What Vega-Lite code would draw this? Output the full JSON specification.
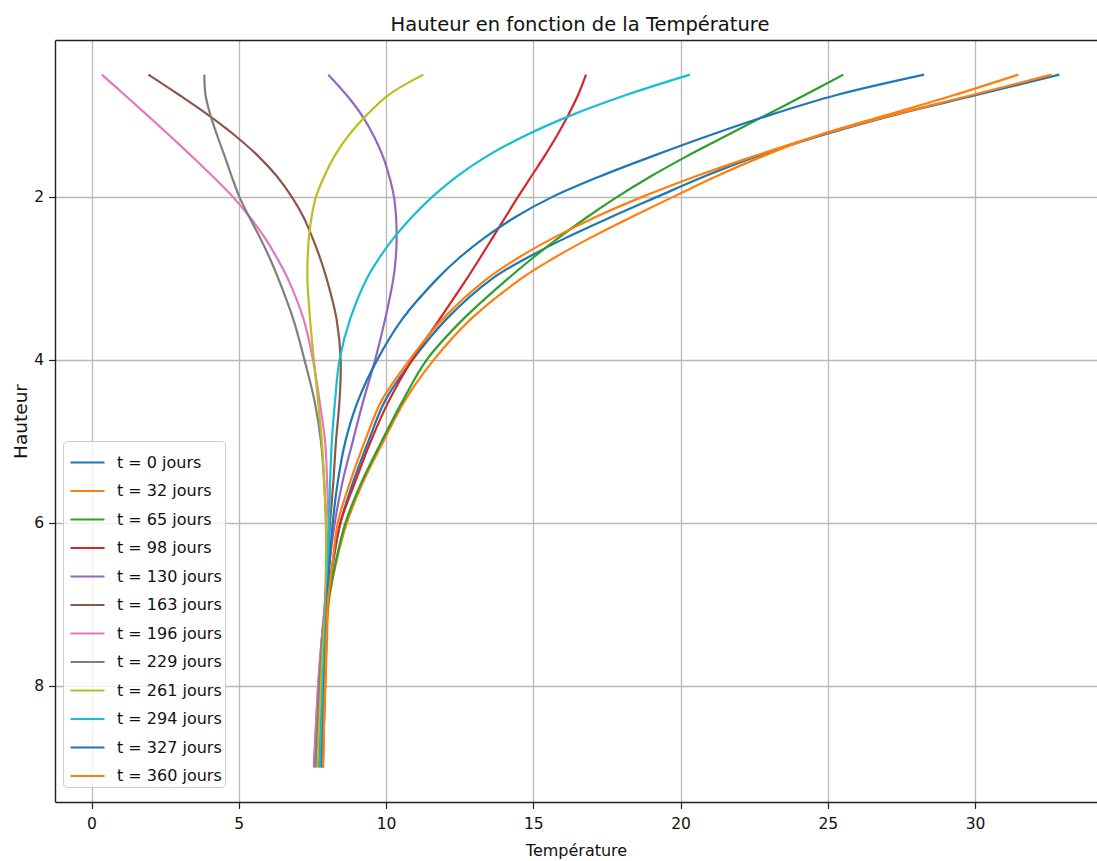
{
"$schema": "https://vega.github.io/schema/vega-lite/v6.json",
"autosize": {"type": "none"},
"padding": {"left": 55, "top": 40, "right": 0, "bottom": 59},
"width": 1042,
"height": 762,
"background": "white",
"config": {"view": {"stroke": null}, "font": "DejaVu Sans"},
"title": {"text": "Hauteur en fonction de la Température", "font": "DejaVu Sans", "fontSize": 19.5, "fontWeight": "normal", "color": "#111", "anchor": "middle", "frame": "group", "offset": -10, "baseline": "alphabetic", "dx": 4},
"data": {"values": [
{"s":"t = 0 jours","h":0.5,"T":32.86},{"s":"t = 0 jours","h":0.75,"T":30.05},{"s":"t = 0 jours","h":1.0,"T":27.2},{"s":"t = 0 jours","h":1.25,"T":24.75},{"s":"t = 0 jours","h":1.5,"T":22.6},{"s":"t = 0 jours","h":1.75,"T":20.8},{"s":"t = 0 jours","h":2.0,"T":19.2},{"s":"t = 0 jours","h":2.25,"T":17.62},{"s":"t = 0 jours","h":2.5,"T":16.12},{"s":"t = 0 jours","h":2.75,"T":14.78},{"s":"t = 0 jours","h":3.0,"T":13.62},{"s":"t = 0 jours","h":3.5,"T":12.05},{"s":"t = 0 jours","h":4.0,"T":10.9},{"s":"t = 0 jours","h":4.5,"T":9.97},{"s":"t = 0 jours","h":5.0,"T":9.4},{"s":"t = 0 jours","h":5.5,"T":8.88},{"s":"t = 0 jours","h":6.0,"T":8.45},{"s":"t = 0 jours","h":6.5,"T":8.2},{"s":"t = 0 jours","h":7.0,"T":8.02},{"s":"t = 0 jours","h":7.5,"T":7.97},{"s":"t = 0 jours","h":8.0,"T":7.93},{"s":"t = 0 jours","h":8.5,"T":7.89},{"s":"t = 0 jours","h":9.0,"T":7.86},
{"s":"t = 32 jours","h":0.5,"T":31.47},{"s":"t = 32 jours","h":0.75,"T":29.3},{"s":"t = 32 jours","h":1.0,"T":26.95},{"s":"t = 32 jours","h":1.25,"T":24.65},{"s":"t = 32 jours","h":1.5,"T":22.8},{"s":"t = 32 jours","h":1.75,"T":21.2},{"s":"t = 32 jours","h":2.0,"T":19.75},{"s":"t = 32 jours","h":2.25,"T":18.32},{"s":"t = 32 jours","h":2.5,"T":16.95},{"s":"t = 32 jours","h":2.75,"T":15.7},{"s":"t = 32 jours","h":3.0,"T":14.6},{"s":"t = 32 jours","h":3.5,"T":12.88},{"s":"t = 32 jours","h":4.0,"T":11.62},{"s":"t = 32 jours","h":4.5,"T":10.64},{"s":"t = 32 jours","h":5.0,"T":9.91},{"s":"t = 32 jours","h":5.5,"T":9.22},{"s":"t = 32 jours","h":6.0,"T":8.67},{"s":"t = 32 jours","h":6.5,"T":8.3},{"s":"t = 32 jours","h":7.0,"T":8.05},{"s":"t = 32 jours","h":7.5,"T":7.99},{"s":"t = 32 jours","h":8.0,"T":7.94},{"s":"t = 32 jours","h":8.5,"T":7.89},{"s":"t = 32 jours","h":9.0,"T":7.85},
{"s":"t = 65 jours","h":0.5,"T":25.53},{"s":"t = 65 jours","h":0.75,"T":24.22},{"s":"t = 65 jours","h":1.0,"T":22.88},{"s":"t = 65 jours","h":1.25,"T":21.55},{"s":"t = 65 jours","h":1.5,"T":20.22},{"s":"t = 65 jours","h":1.75,"T":18.98},{"s":"t = 65 jours","h":2.0,"T":17.85},{"s":"t = 65 jours","h":2.25,"T":16.82},{"s":"t = 65 jours","h":2.5,"T":15.87},{"s":"t = 65 jours","h":2.75,"T":14.98},{"s":"t = 65 jours","h":3.0,"T":14.15},{"s":"t = 65 jours","h":3.5,"T":12.62},{"s":"t = 65 jours","h":4.0,"T":11.38},{"s":"t = 65 jours","h":4.5,"T":10.57},{"s":"t = 65 jours","h":5.0,"T":9.85},{"s":"t = 65 jours","h":5.5,"T":9.17},{"s":"t = 65 jours","h":6.0,"T":8.62},{"s":"t = 65 jours","h":6.5,"T":8.28},{"s":"t = 65 jours","h":7.0,"T":8.03},{"s":"t = 65 jours","h":7.5,"T":7.96},{"s":"t = 65 jours","h":8.0,"T":7.9},{"s":"t = 65 jours","h":8.5,"T":7.85},{"s":"t = 65 jours","h":9.0,"T":7.8},
{"s":"t = 98 jours","h":0.5,"T":16.79},{"s":"t = 98 jours","h":0.75,"T":16.52},{"s":"t = 98 jours","h":1.0,"T":16.18},{"s":"t = 98 jours","h":1.25,"T":15.8},{"s":"t = 98 jours","h":1.5,"T":15.38},{"s":"t = 98 jours","h":1.75,"T":14.93},{"s":"t = 98 jours","h":2.0,"T":14.48},{"s":"t = 98 jours","h":2.25,"T":14.05},{"s":"t = 98 jours","h":2.5,"T":13.62},{"s":"t = 98 jours","h":2.75,"T":13.19},{"s":"t = 98 jours","h":3.0,"T":12.75},{"s":"t = 98 jours","h":3.5,"T":11.82},{"s":"t = 98 jours","h":4.0,"T":10.88},{"s":"t = 98 jours","h":4.5,"T":10.1},{"s":"t = 98 jours","h":5.0,"T":9.48},{"s":"t = 98 jours","h":5.5,"T":8.95},{"s":"t = 98 jours","h":6.0,"T":8.45},{"s":"t = 98 jours","h":6.5,"T":8.18},{"s":"t = 98 jours","h":7.0,"T":8.0},{"s":"t = 98 jours","h":7.5,"T":7.91},{"s":"t = 98 jours","h":8.0,"T":7.84},{"s":"t = 98 jours","h":8.5,"T":7.78},{"s":"t = 98 jours","h":9.0,"T":7.72},
{"s":"t = 130 jours","h":0.5,"T":8.04},{"s":"t = 130 jours","h":0.75,"T":8.66},{"s":"t = 130 jours","h":1.0,"T":9.18},{"s":"t = 130 jours","h":1.25,"T":9.58},{"s":"t = 130 jours","h":1.5,"T":9.89},{"s":"t = 130 jours","h":1.75,"T":10.11},{"s":"t = 130 jours","h":2.0,"T":10.27},{"s":"t = 130 jours","h":2.25,"T":10.34},{"s":"t = 130 jours","h":2.5,"T":10.36},{"s":"t = 130 jours","h":2.75,"T":10.33},{"s":"t = 130 jours","h":3.0,"T":10.25},{"s":"t = 130 jours","h":3.5,"T":9.97},{"s":"t = 130 jours","h":4.0,"T":9.63},{"s":"t = 130 jours","h":4.5,"T":9.23},{"s":"t = 130 jours","h":5.0,"T":8.87},{"s":"t = 130 jours","h":5.5,"T":8.52},{"s":"t = 130 jours","h":6.0,"T":8.26},{"s":"t = 130 jours","h":6.5,"T":8.08},{"s":"t = 130 jours","h":7.0,"T":7.97},{"s":"t = 130 jours","h":7.5,"T":7.86},{"s":"t = 130 jours","h":8.0,"T":7.78},{"s":"t = 130 jours","h":8.5,"T":7.71},{"s":"t = 130 jours","h":9.0,"T":7.64},
{"s":"t = 163 jours","h":0.5,"T":1.93},{"s":"t = 163 jours","h":0.75,"T":2.98},{"s":"t = 163 jours","h":1.0,"T":3.98},{"s":"t = 163 jours","h":1.25,"T":4.88},{"s":"t = 163 jours","h":1.5,"T":5.66},{"s":"t = 163 jours","h":1.75,"T":6.3},{"s":"t = 163 jours","h":2.0,"T":6.8},{"s":"t = 163 jours","h":2.25,"T":7.2},{"s":"t = 163 jours","h":2.5,"T":7.5},{"s":"t = 163 jours","h":2.75,"T":7.76},{"s":"t = 163 jours","h":3.0,"T":7.98},{"s":"t = 163 jours","h":3.5,"T":8.32},{"s":"t = 163 jours","h":4.0,"T":8.46},{"s":"t = 163 jours","h":4.5,"T":8.42},{"s":"t = 163 jours","h":5.0,"T":8.3},{"s":"t = 163 jours","h":5.5,"T":8.21},{"s":"t = 163 jours","h":6.0,"T":8.1},{"s":"t = 163 jours","h":6.5,"T":8.02},{"s":"t = 163 jours","h":7.0,"T":7.93},{"s":"t = 163 jours","h":7.5,"T":7.8},{"s":"t = 163 jours","h":8.0,"T":7.7},{"s":"t = 163 jours","h":8.5,"T":7.62},{"s":"t = 163 jours","h":9.0,"T":7.55},
{"s":"t = 196 jours","h":0.5,"T":0.35},{"s":"t = 196 jours","h":0.75,"T":1.13},{"s":"t = 196 jours","h":1.0,"T":1.9},{"s":"t = 196 jours","h":1.25,"T":2.66},{"s":"t = 196 jours","h":1.5,"T":3.4},{"s":"t = 196 jours","h":1.75,"T":4.12},{"s":"t = 196 jours","h":2.0,"T":4.8},{"s":"t = 196 jours","h":2.25,"T":5.38},{"s":"t = 196 jours","h":2.5,"T":5.88},{"s":"t = 196 jours","h":2.75,"T":6.3},{"s":"t = 196 jours","h":3.0,"T":6.66},{"s":"t = 196 jours","h":3.5,"T":7.2},{"s":"t = 196 jours","h":4.0,"T":7.52},{"s":"t = 196 jours","h":4.5,"T":7.74},{"s":"t = 196 jours","h":5.0,"T":7.93},{"s":"t = 196 jours","h":5.5,"T":8.0},{"s":"t = 196 jours","h":6.0,"T":8.04},{"s":"t = 196 jours","h":6.5,"T":8.0},{"s":"t = 196 jours","h":7.0,"T":7.92},{"s":"t = 196 jours","h":7.5,"T":7.8},{"s":"t = 196 jours","h":8.0,"T":7.69},{"s":"t = 196 jours","h":8.5,"T":7.62},{"s":"t = 196 jours","h":9.0,"T":7.56},
{"s":"t = 229 jours","h":0.5,"T":3.83},{"s":"t = 229 jours","h":0.75,"T":3.87},{"s":"t = 229 jours","h":1.0,"T":4.04},{"s":"t = 229 jours","h":1.25,"T":4.27},{"s":"t = 229 jours","h":1.5,"T":4.52},{"s":"t = 229 jours","h":1.75,"T":4.76},{"s":"t = 229 jours","h":2.0,"T":5.02},{"s":"t = 229 jours","h":2.25,"T":5.36},{"s":"t = 229 jours","h":2.5,"T":5.72},{"s":"t = 229 jours","h":2.75,"T":6.05},{"s":"t = 229 jours","h":3.0,"T":6.34},{"s":"t = 229 jours","h":3.5,"T":6.85},{"s":"t = 229 jours","h":4.0,"T":7.23},{"s":"t = 229 jours","h":4.5,"T":7.57},{"s":"t = 229 jours","h":5.0,"T":7.79},{"s":"t = 229 jours","h":5.5,"T":7.9},{"s":"t = 229 jours","h":6.0,"T":7.96},{"s":"t = 229 jours","h":6.5,"T":7.96},{"s":"t = 229 jours","h":7.0,"T":7.93},{"s":"t = 229 jours","h":7.5,"T":7.82},{"s":"t = 229 jours","h":8.0,"T":7.73},{"s":"t = 229 jours","h":8.5,"T":7.66},{"s":"t = 229 jours","h":9.0,"T":7.6},
{"s":"t = 261 jours","h":0.5,"T":11.27},{"s":"t = 261 jours","h":0.75,"T":10.08},{"s":"t = 261 jours","h":1.0,"T":9.33},{"s":"t = 261 jours","h":1.25,"T":8.72},{"s":"t = 261 jours","h":1.5,"T":8.25},{"s":"t = 261 jours","h":1.75,"T":7.9},{"s":"t = 261 jours","h":2.0,"T":7.62},{"s":"t = 261 jours","h":2.25,"T":7.47},{"s":"t = 261 jours","h":2.5,"T":7.38},{"s":"t = 261 jours","h":2.75,"T":7.34},{"s":"t = 261 jours","h":3.0,"T":7.33},{"s":"t = 261 jours","h":3.5,"T":7.42},{"s":"t = 261 jours","h":4.0,"T":7.55},{"s":"t = 261 jours","h":4.5,"T":7.69},{"s":"t = 261 jours","h":5.0,"T":7.82},{"s":"t = 261 jours","h":5.5,"T":7.9},{"s":"t = 261 jours","h":6.0,"T":7.96},{"s":"t = 261 jours","h":6.5,"T":7.97},{"s":"t = 261 jours","h":7.0,"T":7.95},{"s":"t = 261 jours","h":7.5,"T":7.86},{"s":"t = 261 jours","h":8.0,"T":7.79},{"s":"t = 261 jours","h":8.5,"T":7.73},{"s":"t = 261 jours","h":9.0,"T":7.67},
{"s":"t = 294 jours","h":0.5,"T":20.32},{"s":"t = 294 jours","h":0.75,"T":18.15},{"s":"t = 294 jours","h":1.0,"T":16.28},{"s":"t = 294 jours","h":1.25,"T":14.72},{"s":"t = 294 jours","h":1.5,"T":13.43},{"s":"t = 294 jours","h":1.75,"T":12.4},{"s":"t = 294 jours","h":2.0,"T":11.57},{"s":"t = 294 jours","h":2.25,"T":10.87},{"s":"t = 294 jours","h":2.5,"T":10.27},{"s":"t = 294 jours","h":2.75,"T":9.77},{"s":"t = 294 jours","h":3.0,"T":9.35},{"s":"t = 294 jours","h":3.5,"T":8.78},{"s":"t = 294 jours","h":4.0,"T":8.42},{"s":"t = 294 jours","h":4.5,"T":8.27},{"s":"t = 294 jours","h":5.0,"T":8.16},{"s":"t = 294 jours","h":5.5,"T":8.1},{"s":"t = 294 jours","h":6.0,"T":8.07},{"s":"t = 294 jours","h":6.5,"T":8.03},{"s":"t = 294 jours","h":7.0,"T":7.98},{"s":"t = 294 jours","h":7.5,"T":7.91},{"s":"t = 294 jours","h":8.0,"T":7.85},{"s":"t = 294 jours","h":8.5,"T":7.8},{"s":"t = 294 jours","h":9.0,"T":7.75},
{"s":"t = 327 jours","h":0.5,"T":28.27},{"s":"t = 327 jours","h":0.75,"T":25.3},{"s":"t = 327 jours","h":1.0,"T":23.0},{"s":"t = 327 jours","h":1.25,"T":20.95},{"s":"t = 327 jours","h":1.5,"T":19.05},{"s":"t = 327 jours","h":1.75,"T":17.25},{"s":"t = 327 jours","h":2.0,"T":15.65},{"s":"t = 327 jours","h":2.25,"T":14.38},{"s":"t = 327 jours","h":2.5,"T":13.35},{"s":"t = 327 jours","h":2.75,"T":12.48},{"s":"t = 327 jours","h":3.0,"T":11.75},{"s":"t = 327 jours","h":3.5,"T":10.55},{"s":"t = 327 jours","h":4.0,"T":9.7},{"s":"t = 327 jours","h":4.5,"T":9.05},{"s":"t = 327 jours","h":5.0,"T":8.62},{"s":"t = 327 jours","h":5.5,"T":8.36},{"s":"t = 327 jours","h":6.0,"T":8.19},{"s":"t = 327 jours","h":6.5,"T":8.08},{"s":"t = 327 jours","h":7.0,"T":8.0},{"s":"t = 327 jours","h":7.5,"T":7.95},{"s":"t = 327 jours","h":8.0,"T":7.9},{"s":"t = 327 jours","h":8.5,"T":7.86},{"s":"t = 327 jours","h":9.0,"T":7.82},
{"s":"t = 360 jours","h":0.5,"T":32.6},{"s":"t = 360 jours","h":0.75,"T":29.9},{"s":"t = 360 jours","h":1.0,"T":27.15},{"s":"t = 360 jours","h":1.25,"T":24.65},{"s":"t = 360 jours","h":1.5,"T":22.5},{"s":"t = 360 jours","h":1.75,"T":20.5},{"s":"t = 360 jours","h":2.0,"T":18.7},{"s":"t = 360 jours","h":2.25,"T":17.1},{"s":"t = 360 jours","h":2.5,"T":15.7},{"s":"t = 360 jours","h":2.75,"T":14.48},{"s":"t = 360 jours","h":3.0,"T":13.45},{"s":"t = 360 jours","h":3.5,"T":11.92},{"s":"t = 360 jours","h":4.0,"T":10.8},{"s":"t = 360 jours","h":4.5,"T":9.85},{"s":"t = 360 jours","h":5.0,"T":9.28},{"s":"t = 360 jours","h":5.5,"T":8.78},{"s":"t = 360 jours","h":6.0,"T":8.36},{"s":"t = 360 jours","h":6.5,"T":8.18},{"s":"t = 360 jours","h":7.0,"T":8.02},{"s":"t = 360 jours","h":7.5,"T":7.97},{"s":"t = 360 jours","h":8.0,"T":7.93},{"s":"t = 360 jours","h":8.5,"T":7.89},{"s":"t = 360 jours","h":9.0,"T":7.86}
]},
"encoding": {
  "y": {"field": "h", "type": "quantitative", "scale": {"domain": [0.075, 9.425], "reverse": true, "nice": false, "zero": false},
        "axis": {"orient": "left", "values": [2,4,6,8], "title": "Hauteur", "grid": true, "gridColor": "#b8b8b8", "gridWidth": 1.3, "domainColor": "#222", "domainWidth": 1.4, "tickColor": "#222", "tickSize": 6.5, "tickWidth": 1.2, "labelFont": "DejaVu Sans", "labelFontSize": 15.5, "labelColor": "#111", "labelPadding": 5, "labelFlush": false, "labelOverlap": false, "titleFont": "DejaVu Sans", "titleFontSize": 18.5, "titleFontWeight": "normal", "titleColor": "#111", "titlePadding": 3}},
  "order": {"field": "h", "type": "quantitative"}
},
"layer": [
{"mark": {"type": "line", "strokeWidth": 2.2, "interpolate": "catmull-rom", "clip": true},
 "encoding": {
  "x": {"field": "T", "type": "quantitative", "scale": {"domain": [-1.24, 34.14], "nice": false, "zero": false},
        "axis": {"orient": "bottom", "values": [0,5,10,15,20,25,30], "title": "Température", "grid": true, "gridColor": "#b8b8b8", "gridWidth": 1.3, "domainColor": "#222", "domainWidth": 1.4, "tickColor": "#222", "tickSize": 6.5, "tickWidth": 1.2, "labelFont": "DejaVu Sans", "labelFontSize": 15.5, "labelColor": "#111", "labelPadding": 8, "labelFlush": false, "labelOverlap": false, "titleFont": "DejaVu Sans", "titleFontSize": 16, "titleFontWeight": "normal", "titleColor": "#111", "titlePadding": 10}},
  "color": {"field": "s", "type": "nominal",
    "scale": {"domain": ["t = 0 jours","t = 32 jours","t = 65 jours","t = 98 jours","t = 130 jours","t = 163 jours","t = 196 jours","t = 229 jours","t = 261 jours","t = 294 jours","t = 327 jours","t = 360 jours"],
              "range": ["#1f77b4","#ff7f0e","#2ca02c","#d62728","#9467bd","#8c564b","#e377c2","#7f7f7f","#bcbd22","#17becf","#1f77b4","#ff7f0e"]},
    "legend": {"title": null, "orient": "none", "legendX": 8, "legendY": 401, "symbolType": "stroke", "symbolSize": 1156, "symbolStrokeWidth": 2.2, "symbolOffset": 3, "labelFont": "DejaVu Sans", "labelFontSize": 16, "labelColor": "#111", "labelOffset": 11, "rowPadding": 1.5, "padding": 3, "fillColor": "rgba(255,255,255,0.8)", "strokeColor": "#cccccc", "cornerRadius": 4, "labelLimit": 300}}
 }},
{"mark": {"type": "line", "opacity": 0},
 "encoding": {
  "x": {"field": "T", "type": "quantitative", "axis": {"orient": "top", "labels": false, "ticks": false, "grid": false, "domain": true, "domainColor": "#222", "domainWidth": 1.4, "title": null}},
  "detail": {"field": "s", "type": "nominal"}
 }}
]
}
